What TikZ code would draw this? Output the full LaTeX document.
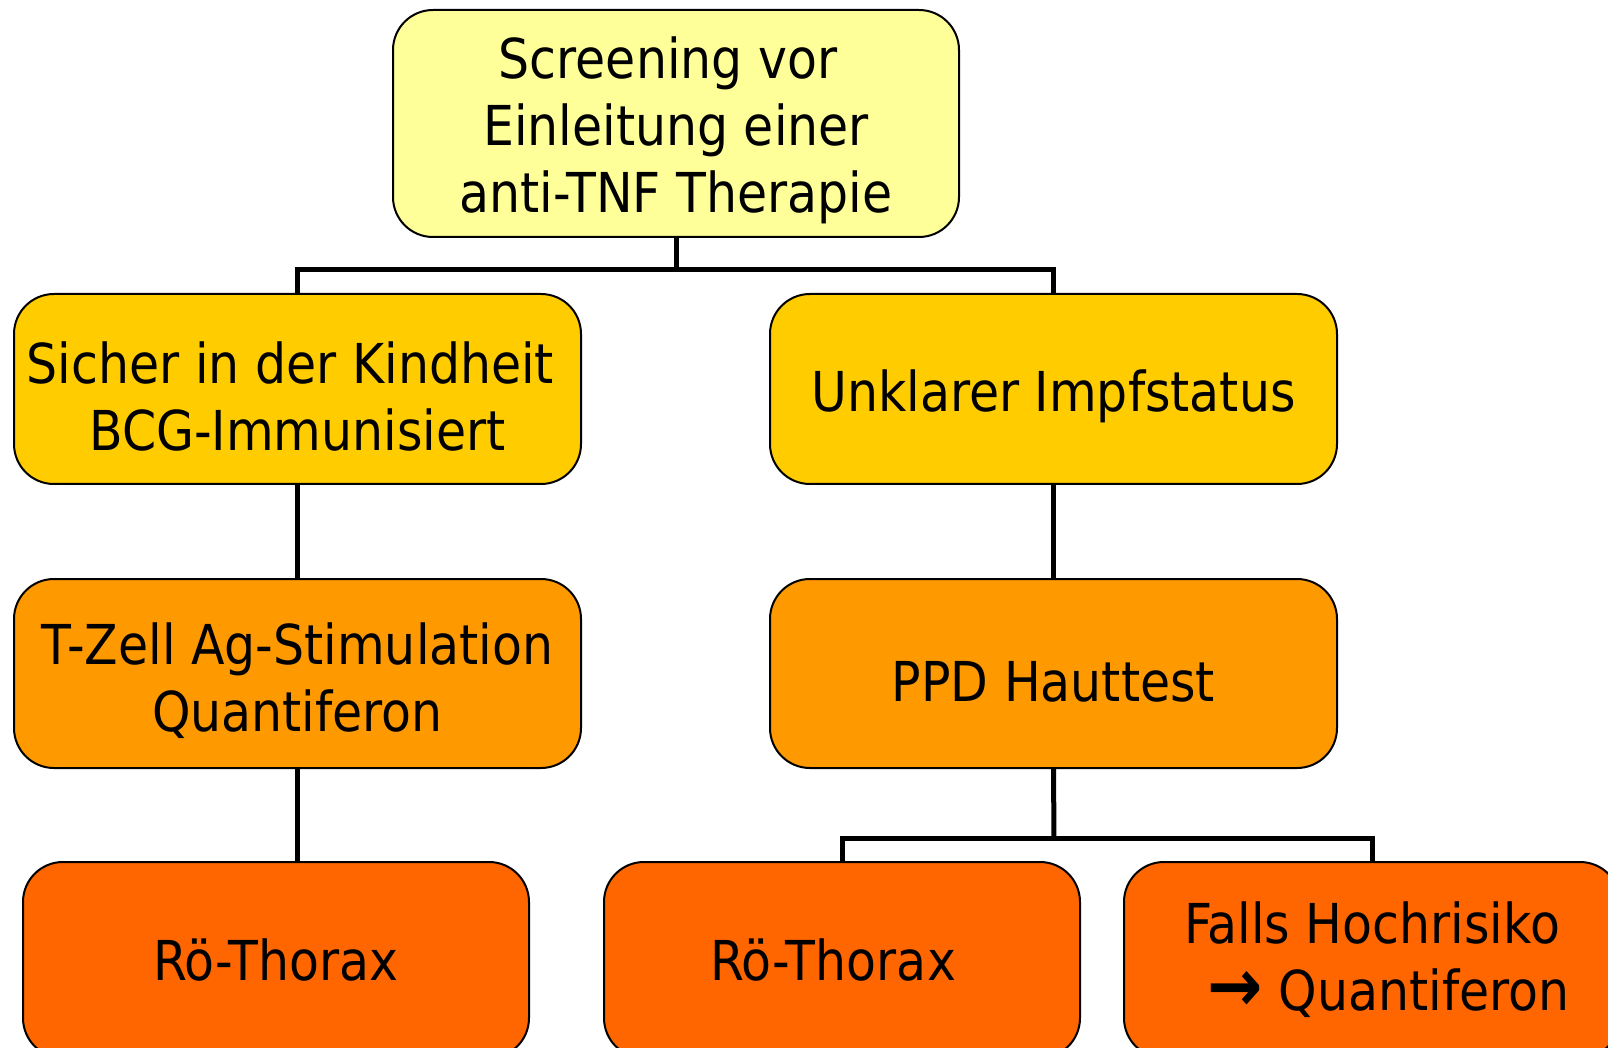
\documentclass[tikz,border=0pt]{standalone}
\usepackage{fontspec}
\setmainfont[FakeStretch=0.89]{DejaVu Sans}
\definecolor{cTop}{HTML}{FFFF99}
\definecolor{cLa}{HTML}{FFCC00}
\definecolor{cLb}{HTML}{FF9900}
\definecolor{cLc}{HTML}{FF6600}
\newcommand{\dn}{\rule{0pt}{28pt}}
\newcommand{\bigarr}{{\bfseries\raisebox{-0.5pt}{\scalebox{1.35}{→}}}}
\begin{document}
\begin{tikzpicture}[x=0.5pt,y=-0.5pt,
  box/.style={draw=black, line width=1pt, rounded corners=20pt, align=center,
    inner sep=0pt, font=\fontsize{27.5}{33.5}\selectfont, text=black},
  conn/.style={draw=black, line width=2.5pt}]
\clip (0,0) rectangle (1608,1048);
\useasboundingbox (0,0) rectangle (1608,1048);
\node[box, fill=cTop, minimum width=283pt, minimum height=113.5pt] (top) at (676,123.5)
  {\dn Screening vor\hspace*{8pt}\\Einleitung einer\hspace*{8pt}\\anti-TNF Therapie};
\node[box, fill=cLa, minimum width=283.5pt, minimum height=95pt] (L1) at (297.5,389)
  {\dn Sicher in der Kindheit\hspace*{7pt}\\BCG-Immunisiert};
\node[box, fill=cLa, minimum width=283.5pt, minimum height=95pt] (R1) at (1053.5,389)
  {\dn Unklarer Impfstatus};
\node[box, fill=cLb, minimum width=283.5pt, minimum height=94.5pt] (L2) at (297.5,673.5)
  {\dn T-Zell Ag-Stimulation\\Quantiferon};
\node[box, fill=cLb, minimum width=283.5pt, minimum height=94.5pt] (R2) at (1053.5,673.5)
  {\dn PPD Hauttest};
\node[box, fill=cLc, minimum width=253pt, minimum height=98pt] (L3) at (276,960)
  {Rö-Thorax};
\node[box, fill=cLc, minimum width=238pt, minimum height=98pt] (R3a) at (842,960)
  {Rö-Thorax\hspace*{9pt}};
\node[box, fill=cLc, minimum width=248pt, minimum height=98pt] (R3b) at (1372,960)
  {Falls Hochrisiko\\\hspace*{0.6em}\bigarr{} Quantiferon};
\coordinate (b1) at (676,270);
\coordinate (b2) at (1054,838);
\draw[conn] (top.south) -- (b1);
\draw[conn] (L1.north) |- (b1) -| (R1.north);
\draw[conn] (L1.south) -- (L2.north);
\draw[conn] (R1.south) -- (R2.north);
\draw[conn] (L2.south) -- (L2.south |- L3.north);
\draw[conn] (R2.south) -- (b2);
\draw[conn] (R3a.north) |- (b2) -| (R3b.north);
\end{tikzpicture}
\end{document}
